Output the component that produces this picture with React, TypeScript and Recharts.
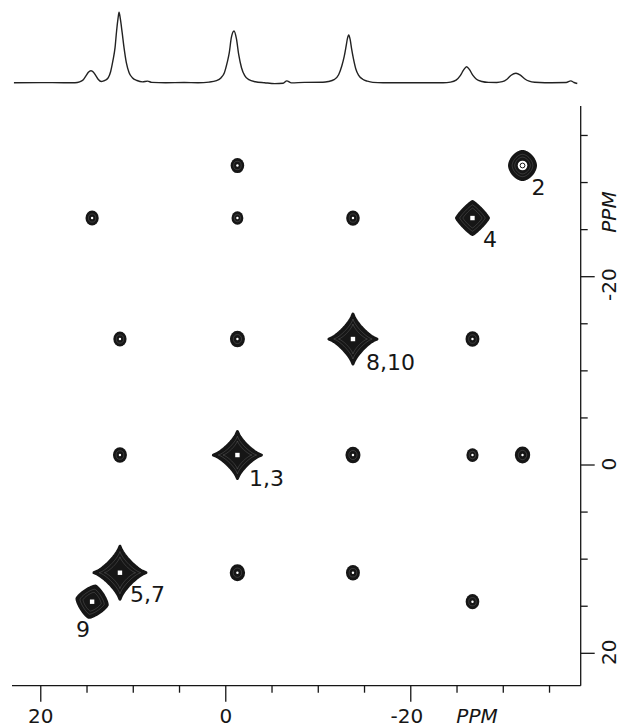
import React from 'react';
import { LineChart, Line, XAxis, YAxis, ScatterChart, Scatter } from 'recharts';

// ---- 1D projection spectrum (ppm, intensity) ----
const spectrumPpm = [
  22.9, 20, 17.5, 16.3, 15.8, 15.4, 15.1, 14.85, 14.57, 14.3, 14.05, 13.8, 13.45, 13.2, 13.0,
  12.7, 12.45, 12.2, 11.97, 11.8, 11.65, 11.54, 11.4, 11.2, 11.0, 10.75, 10.45, 10.1, 9.6, 9.0,
  8.45, 8.0, 6.5, 4.5, 3.0, 1.8, 1.0, 0.5, 0.15, -0.15, -0.38, -0.6, -0.89, -1.15, -1.4, -1.7,
  -2.05, -2.5, -3.2, -4.2, -5.3, -6.2, -6.6, -7.1, -8.5, -10.5, -11.1, -11.7, -12.2, -12.55,
  -12.8, -13.0, -13.15, -13.29, -13.45, -13.6, -13.8, -14.05, -14.35, -14.8, -15.3, -15.9, -17,
  -20, -23.5, -24.3, -24.9, -25.35, -25.7, -26.04, -26.35, -26.7, -27.1, -27.7, -28.4, -29.3,
  -29.9, -30.4, -30.85, -31.37, -31.85, -32.3, -32.8, -33.4, -34.5, -36.8, -37.3, -37.65, -38.0,
];
const spectrumIntensity = [
  0, 0.1, 0, 0, 0.8, 3, 7, 10.5, 12, 10.5, 7, 3.5, 1.2, 1.8, 2.5,
  5, 11, 22, 35, 52, 64, 70.4, 64, 50, 35, 20, 10, 5, 2.2, 0.8,
  1.6, 0.3, 0, 0.2, 0, 0.6, 2, 5, 10, 20, 30, 45, 51.7, 44, 28, 15,
  7, 3, 1, 0, -0.9, -0.6, 1.8, -0.2, 0.3, 0.4, 1.2, 3, 8, 17,
  26, 36, 44, 47.7, 43, 34, 24, 14, 7.5, 3.5, 1.5, 0.3, 0,
  0, 0, 0.6, 2.5, 7, 12.5, 16, 13, 7.5, 3.5, 1.2, 0.3, 0.2,
  1, 3.5, 7.5, 9.4, 7.5, 4, 1.5, 0.4, 0, 0.2, 1.8, 0.2, -0.8,
];

// ---- 2D COSY map ----
const diagLabels = ['9', '5,7', '1,3', '8,10', '4', '2'];
const diagF2 = [14.45, 11.44, -1.26, -13.75, -26.67, -32.08]; // horizontal ppm
const diagF1 = [14.52, 11.44, -1.06, -13.38, -26.23, -31.81]; // vertical ppm
const diagIntensity = [0.6, 1, 1, 1, 0.65, 0.55];

const crossF2Index = [2, 0, 2, 3, 1, 2, 4, 1, 3, 4, 5, 2, 3, 4];
const crossF1Index = [5, 4, 4, 4, 3, 3, 3, 2, 2, 2, 2, 1, 1, 0];
const crossIntensity = [0.8, 0.75, 0.55, 0.8, 0.75, 1, 0.85, 0.85, 1, 0.6, 1.05, 1.05, 0.85, 0.8];

const xTicks = [20, 15, 10, 5, 0, -5, -10, -15, -20, -25, -30, -35];
const yTicks = [-35, -30, -25, -20, -15, -10, -5, 0, 5, 10, 15, 20];
const labeledTicks = [20, 0, -20];
const unitLabel = 'PPM';

const spectrumData = spectrumPpm.map((p, i) => ({ ppm: p, v: spectrumIntensity[i] }));
const diagData = diagLabels.map((l, i) => ({ x: diagF2[i], y: diagF1[i], label: l, amp: diagIntensity[i] }));
const crossData = crossF2Index.map((c, i) => ({
  x: diagF2[c],
  y: diagF1[crossF1Index[i]],
  amp: crossIntensity[i],
}));

// ---- styling ----
const INK = '#161616';
const FONT = "'DejaVu Sans', Roboto, sans-serif";

const diagStyle: Record<string, { a: number; b: number; p: number; rot: number; lx: number; ly: number; anchor: string; hole?: boolean }> = {
  '9': { a: 15.5, b: 16, p: 1.3, rot: 12, lx: -9, ly: 27.6, anchor: 'middle' },
  '5,7': { a: 26, b: 26.5, p: 0.78, rot: 0, lx: 10, ly: 21, anchor: 'start' },
  '1,3': { a: 24, b: 23.5, p: 0.78, rot: 0, lx: 11.5, ly: 23.3, anchor: 'start' },
  '8,10': { a: 24, b: 25, p: 0.78, rot: 0, lx: 13, ly: 22.7, anchor: 'start' },
  '4': { a: 16, b: 16.5, p: 1.15, rot: 0, lx: 10.5, ly: 21, anchor: 'start' },
  '2': { a: 13, b: 14, p: 1.7, rot: 0, lx: 9, ly: 21.2, anchor: 'start', hole: true },
};

function superPath(cx: number, cy: number, a: number, b: number, p: number, rotDeg: number) {
  const n = 96;
  const rot = (rotDeg * Math.PI) / 180;
  let d = '';
  for (let k = 0; k <= n; k++) {
    const t = (k / n) * Math.PI * 2;
    const c = Math.cos(t);
    const s = Math.sin(t);
    const r = 1 / Math.pow(Math.pow(Math.abs(c), p) + Math.pow(Math.abs(s), p), 1 / p);
    const px = a * r * c;
    const py = b * r * s;
    const X = cx + px * Math.cos(rot) - py * Math.sin(rot);
    const Y = cy + px * Math.sin(rot) + py * Math.cos(rot);
    d += (k === 0 ? 'M' : 'L') + X.toFixed(2) + ',' + Y.toFixed(2);
  }
  return d + 'Z';
}

const DiagShape = (props: any) => {
  const { cx, cy } = props;
  const pl = props.payload ?? props;
  const st = diagStyle[pl.label];
  if (!st || cx == null) return <g />;
  return (
    <g>
      <path d={superPath(cx, cy, st.a, st.b, st.p, st.rot)} fill={INK} stroke={INK} strokeWidth={3} strokeLinejoin="round" />
      {[0.8, 0.6].map((s) => (
        <path
          key={s}
          d={superPath(cx, cy, st.a * s, st.b * s, st.p, st.rot)}
          fill="none"
          stroke="#fff"
          strokeWidth={0.5}
          strokeOpacity={0.3}
        />
      ))}
      {st.hole ? (
        <g>
          <circle cx={cx} cy={cy} r={4.8} fill="#fff" />
          <circle cx={cx} cy={cy} r={2.4} fill="none" stroke={INK} strokeWidth={1} />
        </g>
      ) : (
        <rect x={cx - 2.2} y={cy - 2.2} width={4.4} height={4.4} fill="#fff" />
      )}
      <text
        x={cx + st.lx}
        y={cy + st.ly + 8}
        textAnchor={st.anchor as any}
        fontFamily={FONT}
        fontSize={22}
        fill={INK}
      >
        {pl.label}
      </text>
    </g>
  );
};

const CrossShape = (props: any) => {
  const { cx, cy } = props;
  const pl = props.payload ?? props;
  if (cx == null) return <g />;
  const rx = 4 + 3.5 * pl.amp;
  const ry = 4.8 + 3.5 * pl.amp;
  return (
    <g>
      <ellipse cx={cx} cy={cy} rx={rx} ry={ry} fill={INK} />
      <ellipse cx={cx} cy={cy} rx={rx * 0.55} ry={ry * 0.55} fill="none" stroke="#fff" strokeWidth={0.5} strokeOpacity={0.3} />
      <circle cx={cx} cy={cy} r={1.2} fill="#fff" />
    </g>
  );
};

const fmt = (v: number) => (v < 0 ? '-' + Math.abs(v) : String(v));

const XTick = (props: any) => {
  const { x, y, payload } = props;
  const v = payload.value;
  const major = labeledTicks.includes(v);
  return (
    <g>
      <line x1={x} x2={x} y1={y} y2={y + (major ? 16 : 7)} stroke={INK} strokeWidth={1.3} />
      {major && (
        <text x={x + (v < 0 ? -4 : 0)} y={y + 37} textAnchor="middle" fontFamily={FONT} fontSize={20} fill={INK}>
          {fmt(v)}
        </text>
      )}
      {v === -25 && (
        <text x={x + 20} y={y + 37} textAnchor="middle" fontFamily={FONT} fontSize={20} fontStyle="italic" fill={INK}>
          {unitLabel}
        </text>
      )}
    </g>
  );
};

const YTick = (props: any) => {
  const { x, y, payload } = props;
  const v = payload.value;
  const major = labeledTicks.includes(v);
  const bx = x + 35.5;
  const ly = y + (v < 0 ? 8 : -1);
  const py = y - 17.6;
  return (
    <g>
      <line x1={x} x2={x + (major ? 14 : 7)} y1={y} y2={y} stroke={INK} strokeWidth={1.3} />
      {major && (
        <text x={bx} y={ly} transform={`rotate(-90 ${bx} ${ly})`} textAnchor="middle" fontFamily={FONT} fontSize={20} fill={INK}>
          {fmt(v)}
        </text>
      )}
      {v === -25 && (
        <text x={bx} y={py} transform={`rotate(-90 ${bx} ${py})`} textAnchor="middle" fontFamily={FONT} fontSize={20} fontStyle="italic" fill={INK}>
          {unitLabel}
        </text>
      )}
    </g>
  );
};

const X_DOMAIN: [number, number] = [-38.37, 23.11];
const Y_DOMAIN: [number, number] = [-38.13, 23.44];

export default function App() {
  return (
    <div style={{ position: 'absolute', left: 0, top: 0, width: 620, height: 728, background: '#fff' }}>
      <div style={{ position: 'absolute', left: 0, top: 0 }}>
        <LineChart width={620} height={96} data={spectrumData} margin={{ top: 0, bottom: 0, left: 12, right: 39.3 }}>
          <XAxis hide type="number" dataKey="ppm" domain={X_DOMAIN} reversed allowDataOverflow />
          <YAxis hide type="number" domain={[-13.3, 82.7]} allowDataOverflow />
          <Line type="monotone" dataKey="v" stroke="#222" strokeWidth={1.4} dot={false} isAnimationActive={false} />
        </LineChart>
      </div>
      <div style={{ position: 'absolute', left: 0, top: 0 }}>
        <ScatterChart width={620} height={728} margin={{ top: 106, left: 12, right: 3.3, bottom: 2.3 }}>
          <XAxis
            type="number"
            dataKey="x"
            domain={X_DOMAIN}
            reversed
            allowDataOverflow
            ticks={xTicks}
            interval={0}
            height={40}
            tickSize={0}
            tickMargin={0}
            tickLine={false}
            tick={<XTick />}
            axisLine={{ stroke: INK, strokeWidth: 1.3 }}
          />
          <YAxis
            type="number"
            dataKey="y"
            orientation="right"
            domain={Y_DOMAIN}
            reversed
            allowDataOverflow
            ticks={yTicks}
            interval={0}
            width={36}
            tickSize={0}
            tickMargin={0}
            tickLine={false}
            tick={<YTick />}
            axisLine={{ stroke: INK, strokeWidth: 1.3 }}
          />
          <Scatter data={crossData} shape={CrossShape} isAnimationActive={false} />
          <Scatter data={diagData} shape={DiagShape} isAnimationActive={false} />
        </ScatterChart>
      </div>
    </div>
  );
}
